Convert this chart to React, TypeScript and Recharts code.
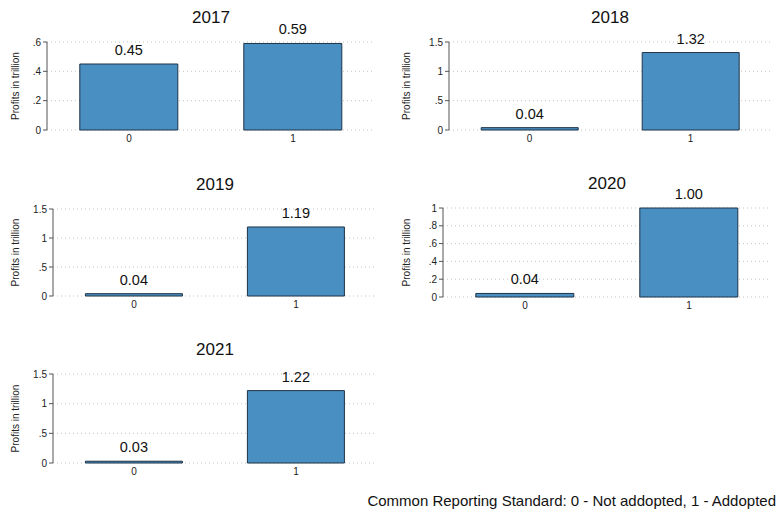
import React from 'react';
import { BarChart, Bar, XAxis, YAxis, CartesianGrid, LabelList } from 'recharts';

const years = ['2017', '2018', '2019', '2020', '2021'];
const categories = ['0', '1'];
// profits in trillion, 0 = not adopted, 1 = adopted
const notAdopted = [0.45, 0.04, 0.04, 0.04, 0.03];
const adopted = [0.59, 1.32, 1.19, 1.0, 1.22];
const yTicks = [
  [0, 0.2, 0.4, 0.6],
  [0, 0.5, 1, 1.5],
  [0, 0.5, 1, 1.5],
  [0, 0.2, 0.4, 0.6, 0.8, 1],
  [0, 0.5, 1, 1.5],
];
const footnote = 'Common Reporting Standard: 0 - Not addopted, 1 - Addopted';

// where each small graph sits on the page
const layout = [
  { left: 0, top: 0, axisX: 47, plotRight: 375, plotTop: 42, plotBottom: 130 },
  { left: 391, top: 0, axisX: 449, plotRight: 771, plotTop: 42, plotBottom: 130 },
  { left: 0, top: 167, axisX: 53, plotRight: 377, plotTop: 209, plotBottom: 296 },
  { left: 391, top: 167, axisX: 443, plotRight: 771, plotTop: 208, plotBottom: 297 },
  { left: 0, top: 333, axisX: 53, plotRight: 377, plotTop: 374, plotBottom: 463 },
];

const PANEL_W = 391;
const PANEL_H = 160;
const X_AXIS_H = 20;
const FONT = '"Liberation Sans", Arial, Helvetica, sans-serif';

const fmtTick = (v: number) => String(v).replace(/^0\./, '.');

function Panel({ idx }: { idx: number }) {
  const box = layout[idx];
  const ticks = yTicks[idx];
  const data = categories.map((cat, j) => ({
    cat,
    value: j === 0 ? notAdopted[idx] : adopted[idx],
  }));
  const margin = {
    top: box.plotTop - box.top,
    right: box.left + PANEL_W - box.plotRight,
    bottom: PANEL_H - (box.plotBottom - box.top) - X_AXIS_H,
    left: 0,
  };

  return (
    <>
      <div
        style={{
          position: 'absolute',
          left: box.axisX,
          width: box.plotRight - box.axisX,
          top: box.plotTop - 33,
          fontSize: 17,
          lineHeight: '17px',
          fontWeight: 400,
          textAlign: 'center',
          color: '#111',
        }}
      >
        {years[idx]}
      </div>
      <div style={{ position: 'absolute', left: box.left, top: box.top }}>
        <BarChart width={PANEL_W} height={PANEL_H} data={data} margin={margin} barCategoryGap="20%">
          <CartesianGrid vertical={false} stroke="#c4c4c4" strokeDasharray="1 3" />
          <XAxis
            dataKey="cat"
            axisLine={false}
            tickLine={false}
            tickSize={2}
            tickMargin={3}
            height={X_AXIS_H}
            tick={{ fontSize: 10, fill: '#222' }}
          />
          <YAxis
            width={box.axisX - box.left}
            domain={[0, ticks[ticks.length - 1]]}
            ticks={ticks}
            interval={0}
            tickFormatter={fmtTick}
            axisLine={{ stroke: '#555' }}
            tickLine={{ stroke: '#555' }}
            tickSize={4}
            tick={{ fontSize: 10, fill: '#222' }}
            label={{
              value: 'Profits in trillion',
              angle: -90,
              position: 'insideLeft',
              offset: 15,
              fontSize: 10,
              fill: '#222',
              style: { textAnchor: 'middle' },
            }}
          />
          <Bar dataKey="value" fill="#4a8fc2" stroke="#1d3348" strokeWidth={1} isAnimationActive={false}>
            <LabelList
              dataKey="value"
              position="top"
              offset={9}
              formatter={(v: number) => v.toFixed(2)}
              style={{ fontSize: 14.5, fill: '#111' }}
            />
          </Bar>
        </BarChart>
      </div>
    </>
  );
}

export default function App() {
  return (
    <div
      style={{
        position: 'absolute',
        left: 0,
        top: 0,
        width: 782,
        height: 516,
        background: '#fff',
        fontFamily: FONT,
      }}
    >
      {years.map((y, i) => (
        <Panel key={y} idx={i} />
      ))}
      <div
        style={{
          position: 'absolute',
          right: 6,
          top: 492,
          fontSize: 15,
          lineHeight: '17px',
          color: '#111',
        }}
      >
        {footnote}
      </div>
    </div>
  );
}
